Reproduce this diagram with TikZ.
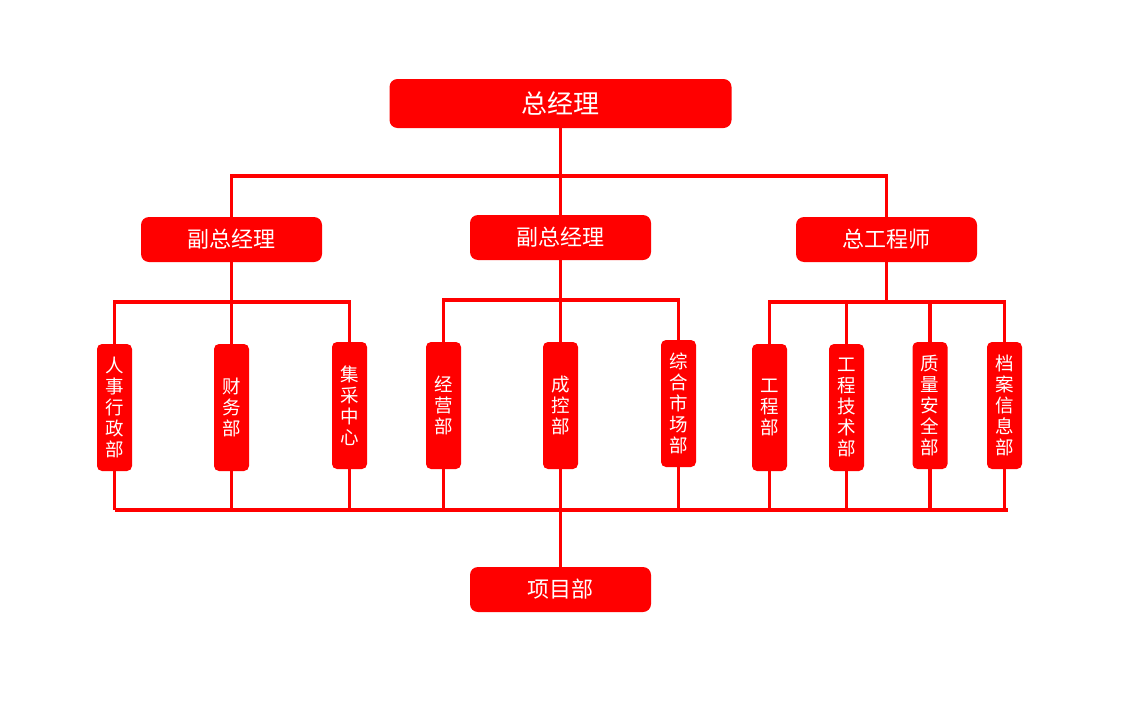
\documentclass[tikz,border=0pt]{standalone}
\usepackage{fontspec}
\newfontfamily\cjk{Noto Sans CJK SC}
\definecolor{chartred}{RGB}{255,0,0}
\begin{document}
\begin{tikzpicture}[x=1pt,y=-1pt,
  box/.style={fill=chartred,rounded corners=8pt,text=white,inner sep=0pt,font=\cjk},
  bigbox/.style={box,minimum width=342pt,minimum height=49pt,font=\cjk\fontsize{26}{28}\selectfont},
  midbox/.style={box,minimum width=181pt,minimum height=45pt,font=\cjk\fontsize{22}{25}\selectfont},
  vbox/.style={box,rounded corners=5pt,minimum width=35pt,minimum height=127pt,align=center,font=\cjk\fontsize{18.5}{21}\selectfont},
  link/.style={draw=chartred,line width=3.2pt}]
\useasboundingbox (0,0) rectangle (1127,720);
\fill[white] (0,0) rectangle (1127,720);
% nodes
\node[bigbox] (gm) at (560.5,103.5) {总经理};
\node[midbox] (vp1) at (231.5,239.5) {副总经理};
\node[midbox] (vp2) at (560.5,237.5) {副总经理};
\node[midbox] (ce) at (886.5,239.5) {总工程师};
\node[vbox] (hr) at (114.5,407.5) {人\\事\\行\\政\\部};
\node[vbox] (fin) at (231.5,407.5) {财\\务\\部};
\node[vbox] (pc) at (349.5,405.5) {集\\采\\中\\心};
\node[vbox] (jy) at (443.5,405.5) {经\\营\\部};
\node[vbox] (ck) at (560.5,405.5) {成\\控\\部};
\node[vbox] (zh) at (678.5,403.5) {综\\合\\市\\场\\部};
\node[vbox] (gc) at (769.5,407.5) {工\\程\\部};
\node[vbox] (js) at (846.5,407.5) {工\\程\\技\\术\\部};
\node[vbox] (zl) at (930,405.5) {质\\量\\安\\全\\部};
\node[vbox] (da) at (1004.5,405.5) {档\\案\\信\\息\\部};
\node[midbox] (pm) at (560.5,589.5) {项目部};
% bus coordinates
\coordinate (b0) at (560.5,176);
\coordinate (c1) at (231.5,302);
\coordinate (c2) at (560.5,300);
\coordinate (c3) at (886.5,302);
\coordinate (bl) at (115,510);
\coordinate (br) at (1008,510);
% top level
\draw[link] (gm.south) -- (vp2.north);
\draw[link] (vp1.north) |- (b0) -| (ce.north);
% second level
\draw[link] (vp1.south) -- (fin.north);
\draw[link] (hr.north) |- (c1) -| (pc.north);
\draw[link] (vp2.south) -- (ck.north);
\draw[link] (jy.north) |- (c2) -| (zh.north);
\draw[link] (ce.south) -- (c3);
\draw[link] (gc.north) |- (c3) -| (da.north);
\draw[link] (js.north) -- (js.north |- c3);
\draw[link] (zl.north) -- (zl.north |- c3);
% bottom bus
\draw[link] (bl) -- (br);
\foreach \n in {hr,fin,pc,jy,zh,gc,js,zl,da}
  \draw[link] (\n.south) -- (\n.south |- bl);
\draw[link] (ck.south) -- (pm.north);
\end{tikzpicture}
\end{document}
